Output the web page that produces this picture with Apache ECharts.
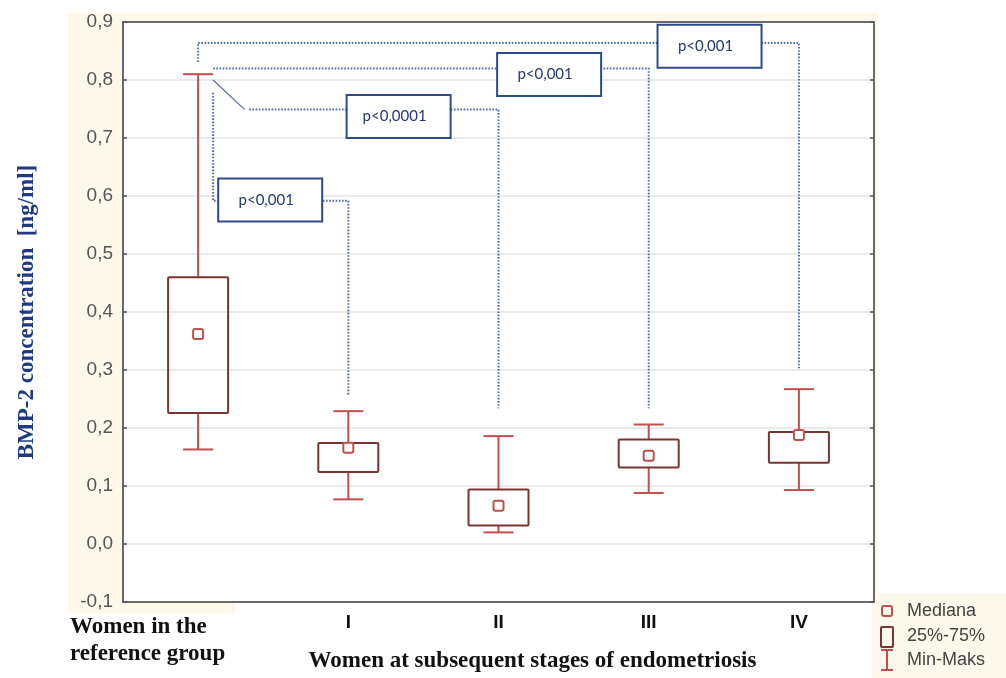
<!DOCTYPE html>
<html>
<head>
<meta charset="utf-8">
<script src="https://cdn.jsdelivr.net/npm/echarts@6/dist/echarts.min.js"></script>
<style>
  html, body { margin: 0; padding: 0; background: #ffffff; }
  #chart { width: 1006px; height: 678px; }
</style>
</head>
<body>
<div id="chart"></div>
<script>
// Groups on the x axis
const categories = ['Women in the\nreference group', 'I', 'II', 'III', 'IV'];

// BMP-2 concentration [ng/ml] per group
const minValues    = [0.163, 0.077, 0.020, 0.088, 0.093];
const q1Values     = [0.226, 0.124, 0.032, 0.132, 0.140];
const medianValues = [0.362, 0.166, 0.066, 0.152, 0.188];
const q3Values     = [0.460, 0.174, 0.094, 0.180, 0.193];
const maxValues    = [0.810, 0.229, 0.186, 0.206, 0.267];

// Value axis
const yMin = -0.1;
const yMax = 0.9;
const yStep = 0.1;

// Significance of each stage against the reference group
const pTexts = ['p<0,001', 'p<0,0001', 'p<0,001', 'p<0,001'];
const pBoxX  = [0.48, 1.335, 2.337, 3.405];
const pBoxY  = [0.593, 0.737, 0.8095, 0.858];

// Dotted connectors, in (group position, value) units
const bracketPaths = [
  [[0.1, 0.778], [0.1, 0.592], [1, 0.592], [1, 0.257]],
  [[0.34, 0.749], [2, 0.749], [2, 0.234]],
  [[0.1, 0.820], [3, 0.820], [3, 0.234]],
  [[0, 0.831], [0, 0.864], [4, 0.864], [4, 0.303]],
  [[-0.5, 0.855], [-0.5, 0.818]]
];
const slantPath = [[0.1, 0.800], [0.31, 0.749]];

const legendItems = ['Mediana', '25%-75%', 'Min-Maks'];

const WHISKER = '#c0504d';
const BOXLINE = '#7a3434';
const NAVY = '#2c4a8c';
const DOTS = '#4d6ca6';
const CREAM = '#fdf8e9';

const chart = echarts.init(document.getElementById('chart'));

function renderBox(params, api) {
  const i = api.value(0);
  const xc = api.coord([i, 0])[0];
  const yMinP = api.coord([i, api.value(1)])[1];
  const yQ1 = api.coord([i, api.value(2)])[1];
  const yMed = api.coord([i, api.value(3)])[1];
  const yQ3 = api.coord([i, api.value(4)])[1];
  const yMaxP = api.coord([i, api.value(5)])[1];
  const half = 30, cap = 15, m = 5;
  const wStyle = { stroke: WHISKER, lineWidth: 2, fill: null };
  return {
    type: 'group',
    children: [
      { type: 'line', shape: { x1: xc, y1: yMaxP, x2: xc, y2: yQ3 }, style: wStyle },
      { type: 'line', shape: { x1: xc, y1: yQ1, x2: xc, y2: yMinP }, style: wStyle },
      { type: 'line', shape: { x1: xc - cap, y1: yMaxP, x2: xc + cap, y2: yMaxP }, style: wStyle },
      { type: 'line', shape: { x1: xc - cap, y1: yMinP, x2: xc + cap, y2: yMinP }, style: wStyle },
      { type: 'rect', shape: { x: xc - half, y: yQ3, width: 2 * half, height: yQ1 - yQ3, r: 1 },
        style: { stroke: BOXLINE, lineWidth: 2, fill: null } },
      { type: 'rect', shape: { x: xc - m, y: yMed - m, width: 2 * m, height: 2 * m, r: 2 },
        style: { stroke: WHISKER, lineWidth: 2, fill: '#ffffff' } }
    ]
  };
}

function renderBracket(params, api) {
  const solid = api.value(0) === 99;
  const path = solid ? slantPath : bracketPaths[api.value(0)];
  const pts = path.map(p => api.coord(p));
  return {
    type: 'polyline',
    shape: { points: pts },
    style: solid
      ? { stroke: '#5a6f96', lineWidth: 1.2, fill: null }
      : { stroke: DOTS, lineWidth: 2, lineDash: [1.6, 1.6], fill: null }
  };
}

function renderPBox(params, api) {
  const c = api.coord([api.value(0), api.value(1)]);
  const w = 104, h = 43;
  return {
    type: 'group',
    children: [
      { type: 'rect', shape: { x: c[0] - w / 2, y: c[1] - h / 2, width: w, height: h },
        style: { fill: '#ffffff', stroke: NAVY, lineWidth: 2 } },
      { type: 'text', x: c[0] - 4, y: c[1],
        style: { text: pTexts[api.value(2)], fill: '#22386e', font: '15px Lato',
                 align: 'center', verticalAlign: 'middle' } }
    ]
  };
}

const fmt = v => (Math.round(v * 10) / 10).toFixed(1).replace('.', ',').replace('-0,0', '0,0');

const frameLine = { onZero: false, lineStyle: { color: '#6a6a6a', width: 2 } };
const frameTick = { inside: true, length: 4, lineStyle: { color: '#555', width: 1.5 } };

const option = {
  animation: false,
  backgroundColor: '#ffffff',
  grid: { left: 123, right: 132, top: 22, bottom: 76, containLabel: false },
  xAxis: [
    {
      type: 'category', data: categories, position: 'bottom', boundaryGap: true,
      axisLine: frameLine,
      axisTick: Object.assign({ alignWithLabel: true }, frameTick),
      axisLabel: {
        formatter: (v, i) => (i === 0 ? '' : v),
        fontFamily: 'Liberation Sans', fontWeight: 'bold', fontSize: 19, color: '#111', margin: 11
      },
      splitLine: { show: false },
      name: 'Women at subsequent stages of endometriosis',
      nameLocation: 'middle', nameGap: 48,
      nameTextStyle: { fontFamily: 'Liberation Serif', fontWeight: 'bold', fontSize: 23, color: '#111', padding: [0, 0, 0, 68] }
    },
    {
      type: 'category', data: categories, position: 'top', boundaryGap: true,
      axisLine: frameLine,
      axisTick: Object.assign({ alignWithLabel: true }, frameTick),
      axisLabel: { show: false },
      splitLine: { show: false }
    },
    { type: 'value', min: -0.5, max: 4.5, show: false }
  ],
  yAxis: [
    {
      type: 'value', min: yMin, max: yMax, interval: yStep, position: 'left',
      axisLine: Object.assign({ show: true }, frameLine),
      axisTick: Object.assign({ show: true }, frameTick),
      axisLabel: { formatter: fmt, fontFamily: 'Liberation Sans', fontSize: 19, color: '#555', margin: 10 },
      splitLine: { show: true, lineStyle: { color: '#e3e3e3', width: 1.5 } },
      name: 'BMP-2 concentration  [ng/ml]',
      nameLocation: 'middle', nameGap: 84, nameRotate: 90,
      nameTextStyle: { fontFamily: 'Liberation Serif', fontWeight: 'bold', fontSize: 23, color: '#1f3a80' }
    },
    {
      type: 'value', min: yMin, max: yMax, interval: yStep, position: 'right',
      axisLine: Object.assign({ show: true }, frameLine),
      axisTick: Object.assign({ show: true }, frameTick),
      axisLabel: { show: false },
      splitLine: { show: false }
    }
  ],
  series: [
    {
      type: 'custom', name: 'brackets', xAxisIndex: 2, yAxisIndex: 0, clip: false, z: 3,
      renderItem: renderBracket,
      data: bracketPaths.map((p, i) => [i]).concat([[99]]),
      encode: { x: 0 }
    },
    {
      type: 'custom', name: 'boxes', xAxisIndex: 0, yAxisIndex: 0, z: 4,
      renderItem: renderBox,
      data: categories.map((c, i) => [i, minValues[i], q1Values[i], medianValues[i], q3Values[i], maxValues[i]]),
      encode: { x: 0, y: [1, 2, 3, 4, 5] }
    },
    {
      type: 'custom', name: 'p-values', xAxisIndex: 2, yAxisIndex: 0, clip: false, z: 5,
      renderItem: renderPBox,
      data: pTexts.map((t, i) => [pBoxX[i], pBoxY[i], i]),
      encode: { x: 0, y: 1 }
    }
  ],
  graphic: [
    // cream margins around the frame
    { type: 'rect', z: -10, shape: { x: 68, y: 13, width: 810, height: 9 }, style: { fill: CREAM } },
    { type: 'rect', z: -10, shape: { x: 68, y: 13, width: 55, height: 600 }, style: { fill: CREAM } },
    { type: 'rect', z: -10, shape: { x: 68, y: 602, width: 167, height: 11 }, style: { fill: CREAM } },
    { type: 'rect', z: -10, shape: { x: 873, y: 13, width: 5, height: 589 }, style: { fill: CREAM } },
    { type: 'rect', z: -10, shape: { x: 872, y: 593, width: 134, height: 85 }, style: { fill: CREAM } },
    // first category label, left aligned under its group
    { type: 'text', left: 70, top: 614, z: 10,
      style: { text: categories[0], font: 'bold 23px "Liberation Serif"', fill: '#111', lineHeight: 27 } },
    // legend
    { type: 'rect', z: 10, shape: { x: 882, y: 606, width: 10, height: 10, r: 2 },
      style: { stroke: WHISKER, lineWidth: 2, fill: null } },
    { type: 'text', z: 10, x: 907, y: 611,
      style: { text: legendItems[0], font: '18px "Liberation Sans"', fill: '#444', verticalAlign: 'middle' } },
    { type: 'rect', z: 10, shape: { x: 881, y: 627, width: 12, height: 20, r: 1 },
      style: { stroke: BOXLINE, lineWidth: 2, fill: null } },
    { type: 'text', z: 10, x: 907, y: 636,
      style: { text: legendItems[1], font: '18px "Liberation Sans"', fill: '#444', verticalAlign: 'middle' } },
    { type: 'line', z: 10, shape: { x1: 887, y1: 650, x2: 887, y2: 670 }, style: { stroke: WHISKER, lineWidth: 2 } },
    { type: 'line', z: 10, shape: { x1: 881, y1: 650, x2: 893, y2: 650 }, style: { stroke: WHISKER, lineWidth: 2 } },
    { type: 'line', z: 10, shape: { x1: 881, y1: 670, x2: 893, y2: 670 }, style: { stroke: WHISKER, lineWidth: 2 } },
    { type: 'text', z: 10, x: 907, y: 660,
      style: { text: legendItems[2], font: '18px "Liberation Sans"', fill: '#444', verticalAlign: 'middle' } }
  ]
};

chart.setOption(option);
</script>
</body>
</html>
